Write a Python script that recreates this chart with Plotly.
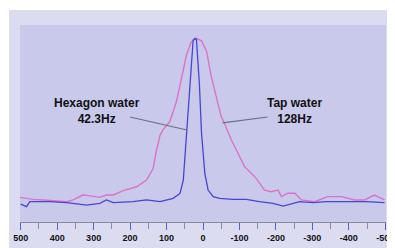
import plotly.graph_objects as go

# Tap water (pink) spectrum, chemical shift in Hz vs intensity
tap_x = [502, 465, 438, 400, 374, 356, 330, 319, 300, 283, 265, 246, 219, 200, 182, 155,
         137, 128, 118, 109, 91, 73, 59, 45, 32, 18, 4, -10, -23, -37, -50, -59, -78, -96,
         -114, -142, -160, -169, -187, -206, -215, -233, -252, -270, -306, -342, -379, -416,
         -443, -470, -498]
tap_y = [12.5, 11.5, 11.2, 10.8, 10.3, 11.2, 13.7, 13.5, 12.9, 12.5, 13.7, 13.7, 15.9, 16.8, 17.9, 21.3,
         27.0, 36.0, 44.0, 47.0, 51.0, 61.0, 73.5, 85.0, 91.5, 93.2, 92.0, 86.5, 73.5, 63.5, 53.5, 50.0,
         41.6, 34.9, 28.1, 23.0, 18.8, 16.2, 15.4, 16.2, 12.9, 14.6, 14.6, 11.2, 10.3, 12.9, 12.9,
         11.2, 11.2, 13.7, 11.2]

# Hexagon water (blue) spectrum
hex_x = [500, 484, 475, 420, 374, 319, 283, 265, 246, 192, 155, 118, 82, 63, 54, 45, 36, 27,
         22, 18, 10, 4, -5, -14, -28, -46, -82, -119, -155, -192, -220, -238, -265, -302,
         -338, -393, -448, -498]
hex_y = [9.1, 7.8, 10.3, 10.3, 9.8, 8.6, 9.5, 11.2, 9.8, 10.3, 11.2, 10.3, 12.0, 14.5, 21.3, 45.0,
         70.4, 92.4, 93.2, 92.7, 70.4, 45.0, 24.7, 16.2, 12.9, 12.0, 11.5, 11.5, 10.3, 9.5, 8.1, 9.1,
         10.3, 9.8, 10.3, 10.3, 10.3, 9.8]

tick_vals = [500, 400, 300, 200, 100, 0, -100, -200, -300, -400, -500]
tick_text = ["500", "400", "300", "200", "100", "0", "-100", "-200", "-300", "-400", "-500"]

hex_label = "Hexagon water<br>42.3Hz"
tap_label = "Tap water<br>128Hz"

fig = go.Figure()

# background panels
fig.add_shape(type="rect", xref="paper", yref="paper", x0=-0.030, x1=1.03, y0=-0.14, y1=1.076,
              fillcolor="#dcdcf0", line_width=0, layer="below")
fig.add_shape(type="rect", xref="paper", yref="paper", x0=0, x1=1, y0=0, y1=1,
              fillcolor="#c9c9eb", line_width=0, layer="below")

fig.add_trace(go.Scatter(x=tap_x, y=tap_y, mode="lines", line=dict(color="#dc72c8", width=1.4),
                         hoverinfo="skip", showlegend=False))
fig.add_trace(go.Scatter(x=hex_x, y=hex_y, mode="lines", line=dict(color="#4646d6", width=1.3),
                         hoverinfo="skip", showlegend=False))

# pointer lines
fig.add_shape(type="line", x0=200, y0=53.3, x1=44, y1=46.7, line=dict(color="#667080", width=1.2))
fig.add_shape(type="line", x0=-177, y0=53.3, x1=-54, y1=50.3, line=dict(color="#667080", width=1.2))

fig.add_annotation(x=291, y=56.5, text="<b>" + hex_label.replace("<br>", "</b><br><b>") + "</b>",
                   showarrow=False, font=dict(family="Liberation Sans", size=12, color="#111111"),
                   align="center")
fig.add_annotation(x=-252, y=56.5, text="<b>" + tap_label.replace("<br>", "</b><br><b>") + "</b>",
                   showarrow=False, font=dict(family="Liberation Sans", size=12, color="#111111"),
                   align="center")

# page body has an 8px margin, so the figure is 8px smaller than the window
fig.update_layout(
    width=387, height=240,
    margin=dict(l=12, r=9, t=17, b=26, autoexpand=False),
    paper_bgcolor="white", plot_bgcolor="rgba(0,0,0,0)",
    font=dict(family="Liberation Sans"),
    xaxis=dict(range=[502, -502], tickvals=tick_vals, ticktext=["<b>%s</b>" % t for t in tick_text],
               showgrid=False, zeroline=False, showline=True, linecolor="#8a8a9a", linewidth=1,
               ticks="outside", ticklen=7, tickcolor="#5c5cd0", tickwidth=1, automargin=False,
               minor=dict(tickvals=[450, 350, 250, 150, 50, -50, -150, -250, -350, -450],
                          ticks="outside", ticklen=6, tickcolor="#8a8aa8", tickwidth=1),
               tickfont=dict(size=9, color="#111111", family="Liberation Sans"), fixedrange=True),
    yaxis=dict(range=[0, 100], visible=False, fixedrange=True),
)

fig.write_html("out.html")
